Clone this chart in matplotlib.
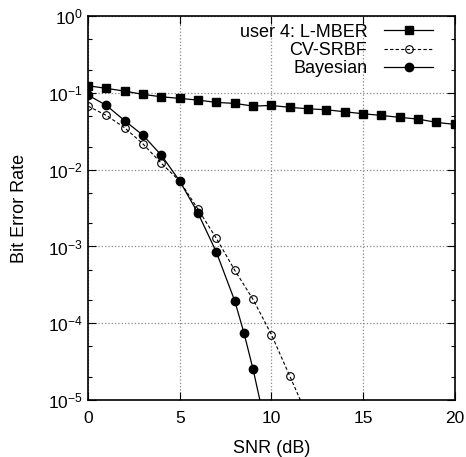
import matplotlib
matplotlib.use("Agg")
import matplotlib.pyplot as plt
from matplotlib.ticker import LogLocator, NullFormatter, FixedLocator

plt.rcParams['font.family'] = ['Liberation Sans', 'DejaVu Sans']
plt.rcParams['mathtext.fontset'] = 'custom'
plt.rcParams['mathtext.rm'] = 'Liberation Sans'
plt.rcParams['mathtext.default'] = 'regular'

snr_mber = list(range(0, 21))
ber_mber = [0.124, 0.1145, 0.1055, 0.0956, 0.089, 0.0848, 0.0806, 0.0752, 0.073,
            0.0673, 0.0687, 0.0648, 0.0621, 0.0603, 0.0568, 0.0535, 0.0509, 0.048,
            0.0456, 0.0413, 0.0389]

snr_srbf = [0, 1, 2, 3, 4, 5, 6, 7, 8, 9, 10, 11, 12]
ber_srbf = [0.0673, 0.0509, 0.0351, 0.0216, 0.0121, 0.0071, 0.00304, 0.00127,
            4.9e-4, 2.04e-4, 7.1e-5, 2.05e-5, 5.9e-6]

snr_bayes = [0, 1, 2, 3, 4, 5, 6, 7, 8, 8.5, 9, 9.5]
ber_bayes = [0.0936, 0.0687, 0.0434, 0.028, 0.0154, 0.0071, 0.0027, 0.00084,
             1.95e-4, 7.5e-5, 2.5e-5, 7.2e-6]

labels = ['user 4: L-MBER', 'CV-SRBF', 'Bayesian']

fig = plt.figure(figsize=(4.66, 4.57), dpi=100)
ax = fig.add_axes([0.189, 0.1247, 0.787, 0.840])

ax.plot(snr_mber, ber_mber, '-', color='black', lw=0.9, marker='s', ms=6,
        label=labels[0])
ax.plot(snr_srbf, ber_srbf, color='black', lw=0.8, ls=(0, (3, 2)), marker='o', ms=5.5,
        mfc='none', mec='black', mew=0.8, label=labels[1])
ax.plot(snr_bayes, ber_bayes, '-', color='black', lw=0.9, marker='o', ms=6,
        label=labels[2])

ax.set_yscale('log')
ax.set_xlim(0, 20)
ax.set_ylim(1e-5, 1)
ax.xaxis.set_major_locator(FixedLocator([0, 5, 10, 15, 20]))
ax.yaxis.set_major_locator(LogLocator(base=10, numticks=10))
ax.yaxis.set_minor_locator(LogLocator(base=10, subs=[2, 5], numticks=10))
ax.yaxis.set_minor_formatter(NullFormatter())

ax.tick_params(which='both', direction='in', top=True, right=True, labelsize=12.5)
ax.tick_params(which='major', length=6, width=0.8)
ax.tick_params(which='minor', length=3, width=0.8)
ax.tick_params(axis='x', pad=8)
ax.tick_params(axis='y', pad=4)

ax.grid(True, which='major', linestyle=':', color='#888888', lw=0.9)
for s in ax.spines.values():
    s.set_linewidth(1.2)

ax.set_xlabel('SNR (dB)', fontsize=13, labelpad=10)
ax.set_ylabel('Bit Error Rate', fontsize=13, labelpad=14)

leg = ax.legend(loc='upper right', bbox_to_anchor=(0.951, 0.99), frameon=False,
                markerfirst=False, fontsize=13,
                handlelength=2.7, labelspacing=0.08, borderaxespad=0.0,
                handletextpad=0.95, borderpad=0.2)

fig.savefig('out.png', dpi=100)
